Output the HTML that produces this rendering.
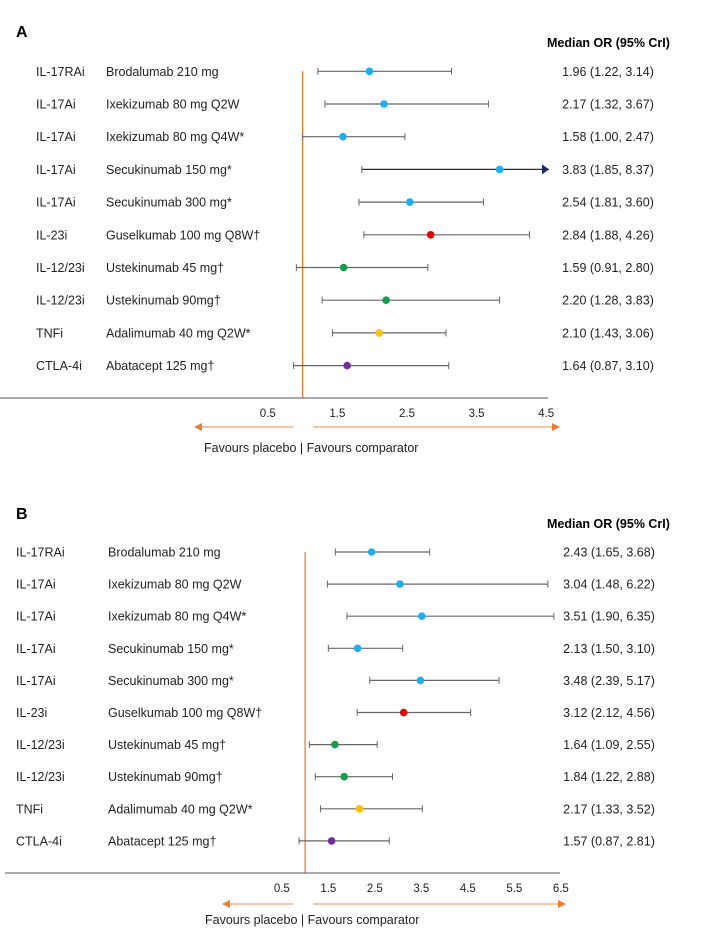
<!DOCTYPE html>
<html><head><meta charset="utf-8"><style>
html,body{margin:0;padding:0;background:#fff;}
svg{display:block;font-family:"Liberation Sans",sans-serif;}
</style></head><body>
<svg id="chart" width="701" height="929"></svg>
<script>
const classesA=["IL-17RAi","IL-17Ai","IL-17Ai","IL-17Ai","IL-17Ai","IL-23i","IL-12/23i","IL-12/23i","TNFi","CTLA-4i"];
const drugsA=["Brodalumab 210 mg","Ixekizumab 80 mg Q2W","Ixekizumab 80 mg Q4W*","Secukinumab 150 mg*","Secukinumab 300 mg*","Guselkumab 100 mg Q8W\u2020","Ustekinumab 45 mg\u2020","Ustekinumab 90mg\u2020","Adalimumab 40 mg Q2W*","Abatacept 125 mg\u2020"];
const medA=[1.96,2.17,1.58,3.83,2.54,2.84,1.59,2.20,2.10,1.64];
const lowA=[1.22,1.32,1.00,1.85,1.81,1.88,0.91,1.28,1.43,0.87];
const highA=[3.14,3.67,2.47,8.37,3.60,4.26,2.80,3.83,3.06,3.10];
const ticksA=[0.5,1.5,2.5,3.5,4.5];
const medB=[2.43,3.04,3.51,2.13,3.48,3.12,1.64,1.84,2.17,1.57];
const lowB=[1.65,1.48,1.90,1.50,2.39,2.12,1.09,1.22,1.33,0.87];
const highB=[3.68,6.22,6.35,3.10,5.17,4.56,2.55,2.88,3.52,2.81];
const ticksB=[0.5,1.5,2.5,3.5,4.5,5.5,6.5];
const colors=["#1aaff0","#1aaff0","#1aaff0","#1aaff0","#1aaff0","#e50000","#10a04c","#10a04c","#ffc000","#7030a0"];
const NS="http://www.w3.org/2000/svg";
const svg=document.getElementById('chart');
function mk(tag,attrs,text){const e=document.createElementNS(NS,tag);for(const k in attrs)e.setAttribute(k,attrs[k]);if(text!==undefined)e.textContent=text;svg.appendChild(e);return e;}
function panel(p){
  const x=v=>p.a+p.b*v;
  const y=i=>p.y0+p.dy*i;
  let t=mk('text',{x:16,y:p.labelY,'font-size':16,'font-weight':'bold'},p.label);
  
  
  t=mk('text',{x:p.hdrX,y:p.hdrY,'font-size':12.5,'font-weight':'bold'},"Median OR (95% CrI)");
  
  
  let l=mk('line',{x1:x(1),x2:x(1),y1:p.y0,y2:p.axisY,stroke:'#ed7d31','stroke-width':1.3});
  
  
  l=mk('line',{x1:p.axX0,x2:p.axX1,y1:p.axisY,y2:p.axisY,stroke:'#555','stroke-width':1});
  
  
  p.ticks.forEach(v=>{
    const tt=mk('text',{x:x(v),y:p.axisY+19,'font-size':11.5,'text-anchor':'middle',fill:'#222'},v.toFixed(1));
    
    
  });
  for(let i=0;i<classesA.length;i++){
    const yy=y(i);
    let c=mk('text',{x:p.clsX,y:yy+4.5,'font-size':12.5,fill:'#222'},classesA[i]);
    
    
    c=mk('text',{x:p.drugX,y:yy+4.5,'font-size':12.5,fill:'#222'},drugsA[i]);
    
    
    c=mk('text',{x:p.valX,y:yy+4.5,'font-size':12.5,fill:'#222','text-anchor':'middle'},p.med[i].toFixed(2)+" ("+p.low[i].toFixed(2)+", "+p.high[i].toFixed(2)+")");
    
    
    const xl=x(p.low[i]);const clipped=x(p.high[i])>p.clipX;const xh=clipped?p.clipX:x(p.high[i]);
    let ci=mk('line',{x1:xl,x2:xh,y1:yy,y2:yy,stroke:clipped?'#1f2a5e':'#666','stroke-width':1.2});
    
    
    ci=mk('line',{x1:xl,x2:xl,y1:yy-3.5,y2:yy+3.5,stroke:'#666','stroke-width':1});
    
    
    if(clipped){
      ci=mk('polygon',{points:(xh-7)+","+(yy-5)+" "+xh+","+yy+" "+(xh-7)+","+(yy+5),fill:'#1f2a5e'});
      
    }else{
      ci=mk('line',{x1:xh,x2:xh,y1:yy-3.5,y2:yy+3.5,stroke:'#666','stroke-width':1});
      
    }
    
    const pt=mk('circle',{cx:x(p.med[i]),cy:yy,r:3.8,fill:colors[i]});
    
    
  }
  const ay=p.arrowY;
  let ar=mk('line',{x1:p.lArr+6,x2:293,y1:ay,y2:ay,stroke:'#f0a070','stroke-width':1.3});
  
  
  ar=mk('polygon',{points:p.lArr+","+ay+" "+(p.lArr+8)+","+(ay-4)+" "+(p.lArr+8)+","+(ay+4),fill:'#ed7d31'});
  
  
  ar=mk('line',{x1:313,x2:p.rArr-6,y1:ay,y2:ay,stroke:'#f0a070','stroke-width':1.3});
  
  
  ar=mk('polygon',{points:p.rArr+","+ay+" "+(p.rArr-8)+","+(ay-4)+" "+(p.rArr-8)+","+(ay+4),fill:'#ed7d31'});
  
  
  t=mk('text',{x:p.favX,y:ay+p.favDy,'font-size':12.5,fill:'#222'},"Favours placebo | Favours comparator");
  
  
}
panel({label:"A",labelY:37,hdrX:547,hdrY:47,a:233,b:69.6,y0:71.3,dy:32.7,axisY:398,axX0:0,axX1:548,ticks:ticksA,
  med:medA,low:lowA,high:highA,clsX:36,drugX:106,valX:608,clipX:549,arrowY:427,lArr:194,rArr:560,favX:204,favDy:25});
panel({label:"B",labelY:519,hdrX:547,hdrY:528,a:258.6,b:46.5,y0:552,dy:32.1,axisY:873,axX0:5,axX1:560,ticks:ticksB,
  med:medB,low:lowB,high:highB,clsX:16,drugX:108,valX:609,clipX:700,arrowY:904,lArr:222,rArr:566,favX:205,favDy:20});
</script>
</body></html>
